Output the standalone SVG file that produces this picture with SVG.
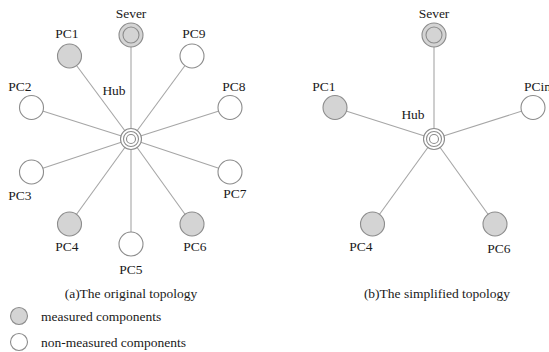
<svg xmlns="http://www.w3.org/2000/svg" width="549" height="352" viewBox="0 0 549 352">
<style>
.bg{fill:#ffffff}
.edge{stroke:#a6a6a6;stroke-width:1.1;fill:none}
.m{fill:#d4d4d4;stroke:#8c8c8c;stroke-width:1.1}
.n{fill:#ffffff;stroke:#8c8c8c;stroke-width:1.1}
.ring{fill:none;stroke:#8c8c8c;stroke-width:1.1}
text{font-family:"Liberation Serif","Times New Roman",serif;font-size:13.5px;fill:#1a1a1a}
.c{text-anchor:middle}
</style>
<rect class="bg" x="0" y="0" width="549" height="352"/>
<g id="connectors">
<line class="edge" x1="131" y1="139" x2="131" y2="35"/>
<line class="edge" x1="131" y1="139" x2="69.5" y2="56"/>
<line class="edge" x1="131" y1="139" x2="192" y2="56"/>
<line class="edge" x1="131" y1="139" x2="31.5" y2="107.5"/>
<line class="edge" x1="131" y1="139" x2="230" y2="107.5"/>
<line class="edge" x1="131" y1="139" x2="31.5" y2="172"/>
<line class="edge" x1="131" y1="139" x2="230" y2="172"/>
<line class="edge" x1="131" y1="139" x2="69.5" y2="224"/>
<line class="edge" x1="131" y1="139" x2="192" y2="224"/>
<line class="edge" x1="131" y1="139" x2="131" y2="244"/>
<line class="edge" x1="434" y1="139" x2="434" y2="35"/>
<line class="edge" x1="434" y1="139" x2="335" y2="107.5"/>
<line class="edge" x1="434" y1="139" x2="533" y2="107.5"/>
<line class="edge" x1="434" y1="139" x2="372.5" y2="224"/>
<line class="edge" x1="434" y1="139" x2="495" y2="224"/>
</g>
<g id="a-hub"><circle class="n" cx="131" cy="139" r="10.5"/><circle class="ring" cx="131" cy="139" r="7.5"/><circle class="ring" cx="131" cy="139" r="4.5"/><text class="c" x="114" y="95">Hub</text></g>
<g id="a-sever"><circle class="m" cx="131" cy="35" r="12"/><circle class="ring" cx="131" cy="35" r="8"/><text class="c" x="131" y="18">Sever</text></g>
<g id="a-pc1"><circle class="m" cx="69.5" cy="56" r="12"/><text class="c" x="67" y="38">PC1</text></g>
<g id="a-pc9"><circle class="n" cx="192" cy="56" r="12"/><text class="c" x="194" y="38">PC9</text></g>
<g id="a-pc2"><circle class="n" cx="31.5" cy="107.5" r="12"/><text class="c" x="20" y="91">PC2</text></g>
<g id="a-pc8"><circle class="n" cx="230" cy="107.5" r="12"/><text class="c" x="234" y="91">PC8</text></g>
<g id="a-pc3"><circle class="n" cx="31.5" cy="172" r="12"/><text class="c" x="20" y="200">PC3</text></g>
<g id="a-pc7"><circle class="n" cx="230" cy="172" r="12"/><text class="c" x="235" y="198">PC7</text></g>
<g id="a-pc4"><circle class="m" cx="69.5" cy="224" r="12"/><text class="c" x="67" y="251">PC4</text></g>
<g id="a-pc6"><circle class="m" cx="192" cy="224" r="12"/><text class="c" x="195" y="251">PC6</text></g>
<g id="a-pc5"><circle class="n" cx="131" cy="244" r="12"/><text class="c" x="131" y="274">PC5</text></g>
<text class="c" x="131" y="297.5">(a)The original topology</text>
<g id="b-hub"><circle class="n" cx="434" cy="139" r="10.5"/><circle class="ring" cx="434" cy="139" r="7.5"/><circle class="ring" cx="434" cy="139" r="4.5"/><text class="c" x="413" y="119">Hub</text></g>
<g id="b-sever"><circle class="m" cx="434" cy="35" r="12"/><circle class="ring" cx="434" cy="35" r="8"/><text class="c" x="434" y="18">Sever</text></g>
<g id="b-pc1"><circle class="m" cx="335" cy="107.5" r="12"/><text class="c" x="324" y="91">PC1</text></g>
<g id="b-pcin"><circle class="n" cx="533" cy="107.5" r="12"/><text x="524" y="91">PCin</text></g>
<g id="b-pc4"><circle class="m" cx="372.5" cy="224" r="12"/><text class="c" x="361" y="251">PC4</text></g>
<g id="b-pc6"><circle class="m" cx="495" cy="224" r="12"/><text class="c" x="499" y="253">PC6</text></g>
<text class="c" x="437" y="297.5">(b)The simplified topology</text>
<g id="legend-measured"><circle class="m" cx="19" cy="316" r="8.5"/><text x="41" y="320.5">measured components</text></g>
<g id="legend-non"><circle class="n" cx="19" cy="342" r="8.5"/><text x="41" y="346.5">non-measured components</text></g>
</svg>
